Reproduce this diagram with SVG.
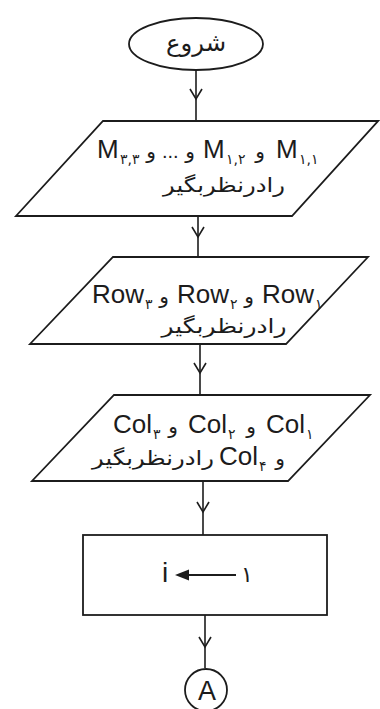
<svg xmlns="http://www.w3.org/2000/svg" width="380" height="709" viewBox="0 0 380 709">
<style>
.shape{fill:#ffffff;stroke:#1c1c1c;stroke-width:1.8}
.conn{fill:none;stroke:#1c1c1c;stroke-width:1.6}
.lat{font-family:"Liberation Sans",Arial,sans-serif;fill:#1c1c1c}
.fa{font-family:"DejaVu Sans",sans-serif;fill:#1c1c1c}
.sub{font-family:"DejaVu Sans",sans-serif;fill:#1c1c1c;font-size:14px}
</style>
<defs>
<marker id="chev" viewBox="-12 -8 14 16" markerWidth="14" markerHeight="16" refX="0" refY="0" orient="auto" markerUnits="userSpaceOnUse">
<path d="M-10,-6 L0,0 L-10,6" fill="none" stroke="#1c1c1c" stroke-width="1.6"/>
</marker>
</defs>
<rect width="380" height="709" fill="#ffffff"/>

<g id="connectors">
<path class="conn" d="M196,70 L196,99 L196,121" marker-mid="url(#chev)"/>
<path class="conn" d="M198,216 L198,237 L198,257" marker-mid="url(#chev)"/>
<path class="conn" d="M200,344 L200,373 L200,395" marker-mid="url(#chev)"/>
<path class="conn" d="M203,481 L203,512 L203,535" marker-mid="url(#chev)"/>
<path class="conn" d="M205,615 L205,647 L205,668" marker-mid="url(#chev)"/>
</g>

<g id="start">
<ellipse class="shape" cx="196" cy="44" rx="67" ry="26"/>
<text class="fa" x="196" y="51" font-size="24" text-anchor="middle" textLength="60" lengthAdjust="spacingAndGlyphs">شروع</text>
</g>

<g id="input-m">
<polygon class="shape" points="103,121 378,121 292,216 16,216"/>
<text class="lat" x="97" y="158" font-size="26">M</text>
<text class="sub" x="120" y="164">۳,۳</text>
<text class="fa" x="151" y="158" font-size="20" text-anchor="middle">و</text>
<text class="lat" x="162" y="158" font-size="20">...</text>
<text class="fa" x="190" y="158" font-size="20" text-anchor="middle">و</text>
<text class="lat" x="203" y="158" font-size="26">M</text>
<text class="sub" x="226" y="164">۱,۲</text>
<text class="fa" x="260" y="158" font-size="20" text-anchor="middle">و</text>
<text class="lat" x="276" y="158" font-size="26">M</text>
<text class="sub" x="299" y="164">۱,۱</text>
<text class="fa" x="224" y="192" font-size="20" text-anchor="middle" textLength="122" lengthAdjust="spacingAndGlyphs">رادرنظربگیر</text>
</g>

<g id="input-row">
<polygon class="shape" points="113,257 368,257 286,344 30,344"/>
<text class="lat" x="92" y="303" font-size="26">Row</text>
<text class="sub" x="145" y="309">۳</text>
<text class="fa" x="164" y="303" font-size="20" text-anchor="middle">و</text>
<text class="lat" x="177" y="303" font-size="26">Row</text>
<text class="sub" x="230" y="309">۲</text>
<text class="fa" x="249" y="303" font-size="20" text-anchor="middle">و</text>
<text class="lat" x="262" y="303" font-size="26">Row</text>
<text class="sub" x="315" y="309">۱</text>
<text class="fa" x="224" y="333" font-size="20" text-anchor="middle" textLength="125" lengthAdjust="spacingAndGlyphs">رادرنظربگیر</text>
</g>

<g id="input-col">
<polygon class="shape" points="114,395 370,395 288,481 32,481"/>
<text class="lat" x="113" y="433" font-size="26">Col</text>
<text class="sub" x="153" y="439">۳</text>
<text class="fa" x="173" y="433" font-size="20" text-anchor="middle">و</text>
<text class="lat" x="188" y="433" font-size="26">Col</text>
<text class="sub" x="228" y="439">۲</text>
<text class="fa" x="251" y="433" font-size="20" text-anchor="middle">و</text>
<text class="lat" x="266" y="433" font-size="26">Col</text>
<text class="sub" x="306" y="439">۱</text>
<text class="fa" x="153" y="465" font-size="20" text-anchor="middle" textLength="122" lengthAdjust="spacingAndGlyphs">رادرنظربگیر</text>
<text class="lat" x="219" y="465" font-size="26">Col</text>
<text class="sub" x="259" y="471">۴</text>
<text class="fa" x="280" y="465" font-size="20" text-anchor="middle">و</text>
</g>

<g id="assign">
<rect class="shape" x="83" y="535" width="244" height="80"/>
<text class="lat" x="162" y="582" font-size="28">i</text>
<path d="M236,575 L186,575" fill="none" stroke="#1c1c1c" stroke-width="2"/>
<polygon points="175,575 189,569.5 189,580.5" fill="#1c1c1c"/>
<text class="fa" x="247" y="582" font-size="22" text-anchor="middle">۱</text>
</g>

<g id="connector-a">
<circle class="shape" cx="206" cy="690" r="21"/>
<text class="lat" x="207" y="700" font-size="27" text-anchor="middle">A</text>
</g>
</svg>
